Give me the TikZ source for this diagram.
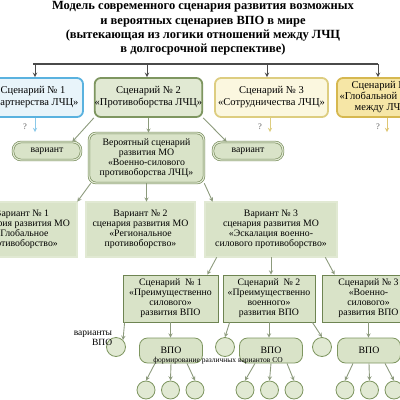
\documentclass[tikz,border=0pt]{standalone}
\usepackage{fontspec}
\setmainfont{Liberation Serif}
\usepackage{xcolor}
\usepackage{tikz}

\definecolor{blueln}{HTML}{5AB2DF}
\definecolor{bluefl}{HTML}{E8F4FA}
\definecolor{greenln}{HTML}{7E9660}
\definecolor{greenfl}{HTML}{E1E9D3}
\definecolor{yellln}{HTML}{DDCD80}
\definecolor{yellfl}{HTML}{FBF7DF}
\definecolor{goldln}{HTML}{D6B850}
\definecolor{goldfl}{HTML}{F6E6A6}
\definecolor{boxln}{HTML}{6E8452}
\definecolor{boxfl}{HTML}{D9E3C8}
\definecolor{arrln}{HTML}{8C9A7C}
\definecolor{barln}{HTML}{4A4A4A}

\tikzset{
  title/.style={align=center, font=\bfseries\fontsize{12.5}{14.3}\selectfont},
  topbox/.style={rounded corners=6pt, line width=1.8pt, align=center, inner sep=0pt,
    font=\fontsize{10.5}{12}\selectfont},
  dblbox/.style={draw=boxln, line width=0.6pt, double=greenfl, double distance=1.2pt,
    fill=boxfl, align=center, inner sep=0pt, font=\fontsize{9.8}{10}\selectfont},
  varpill/.style={dblbox, rounded corners=8pt, minimum height=18pt},
  scbox/.style={draw=boxln, line width=0.8pt, fill=boxfl, align=center, inner sep=0pt,
    minimum width=93pt, minimum height=47pt, font=\fontsize{9.8}{10}\selectfont},
  vpo/.style={draw=greenln, line width=0.8pt, fill=boxfl, rounded corners=8pt,
    minimum width=63pt, minimum height=25pt, font=\fontsize{9.8}{10}\selectfont},
  circ/.style={circle, draw=greenln, line width=0.8pt, fill=greenfl, minimum size=19pt, inner sep=0pt},
  smallcirc/.style={circ, minimum size=18pt},
  arr/.style={->, draw=arrln, line width=0.9pt},
  bararr/.style={->, draw=barln, line width=1pt},
  qmark/.style={text=black!65, font=\fontsize{8.5}{8}\selectfont}
}

\begin{document}
\begin{tikzpicture}[x=1pt,y=-1pt,>=stealth]
\useasboundingbox (0,0) rectangle (400,400);
\clip (0,0) rectangle (400,400);

% заголовок
\node[title] (head) at (203,28.5) {Модель современного сценария развития возможных\\
  и вероятных сценариев ВПО в мире\\
  (вытекающая из логики отношений между ЛЧЦ\\
  в долгосрочной перспективе)};

% сценарии отношений ЛЧЦ
\node[topbox, draw=blueln, fill=bluefl, minimum width=100pt, minimum height=39pt] (sc1) at (33,97.5)
  {Сценарий № 1\\ «Партнерства ЛЧЦ»};
\node[topbox, draw=greenln, fill=greenfl, minimum width=107pt, minimum height=39pt] (sc2) at (148.5,97.5)
  {Сценарий № 2\\ «Противоборства ЛЧЦ»};
\node[topbox, draw=yellln, fill=yellfl, minimum width=113pt, minimum height=39pt] (sc3) at (271.5,97.5)
  {Сценарий № 3\\ «Сотрудничества ЛЧЦ»};
\node[topbox, draw=goldln, fill=goldfl, minimum width=94pt, minimum height=39pt,
  font=\fontsize{10.5}{11}\selectfont] (sc4) at (384,97.5)
  {Сценарий № 4\\ «Глобальной войны\\ между ЛЧЦ»};

% общая шина
\coordinate (t1) at (35,64);
\coordinate (t2) at (147,64);
\coordinate (t3) at (267,64);
\coordinate (t4) at (378,64);
\draw[barln, line width=1.2pt] (33,64) -- (t4);
\draw[bararr] (t1) -- (t1 |- sc1.north);
\draw[bararr] (t2) -- (t2 |- sc2.north);
\draw[bararr] (t3) -- (t3 |- sc3.north);
\draw[bararr] (t4) -- (t4 |- sc4.north);

% неясные продолжения
\coordinate (e1) at (35,132);
\coordinate (e3) at (270,132);
\coordinate (e4) at (387,132);
\draw[->, draw=blueln!70, line width=0.9pt] (e1 |- sc1.south) -- (e1);
\draw[->, draw=yellln, line width=0.9pt] (e3 |- sc3.south) -- (e3);
\draw[->, draw=goldln!80, line width=0.9pt] (e4 |- sc4.south) -- (e4);
\node[qmark] (q1) at (25,127) {?};
\node[qmark] (q3) at (260,127) {?};
\node[qmark] (q4) at (378,127) {?};

% второй уровень
\node[varpill, minimum width=68pt] (var1) at (47,151) {вариант};
\node[dblbox, rounded corners=7pt, minimum width=115pt, minimum height=50pt] (prob) at (146.5,158)
  {Вероятный сценарий\\ развития МО\\ «Военно-силового\\ противоборства ЛЧЦ»};
\node[varpill, minimum width=70pt] (var2) at (248,151) {вариант};

\draw[arr] (sc2.south west) -- ([xshift=-9pt]var1.north east);
\draw[arr] (sc2.south) -- (sc2.south |- prob.north);
\draw[arr] (sc2.south east) -- ([xshift=14pt]var2.north west);

% варианты сценария МО
\node[dblbox, minimum width=110pt, minimum height=55pt] (v1) at (22,229.5)
  {Вариант № 1\\ сценария развития МО\\ «Глобальное\\ противоборство»};
\node[dblbox, minimum width=109pt, minimum height=55pt] (v2) at (140.5,229.5)
  {Вариант № 2\\ сценария развития МО\\ «Региональное\\ противоборство»};
\node[dblbox, minimum width=132pt, minimum height=55pt] (v3) at (271,229.5)
  {Вариант № 3\\ сценария развития МО\\ «Эскалация военно-\\ силового противоборство»};

\draw[arr] ([xshift=2pt]prob.south west) -- (v1.north east);
\draw[arr] (prob.south) -- (prob.south |- v2.north);
\draw[arr] (prob.south east) -- ([xshift=8pt]v3.north west);

% сценарии развития ВПО
\node[scbox, minimum width=95pt] (s1) at (170.5,298.5)
  {Сценарий~ № 1\\ «Преимущественно\\ силового»\\ развития ВПО};
\node[scbox, minimum width=92pt] (s2) at (269,298.5)
  {Сценарий~ № 2\\ «Преимущественно\\ военного»\\ развития ВПО};
\node[scbox] (s3) at (368.5,298.5)
  {Сценарий № 3\\ «Военно-\\ силового»\\ развития ВПО};

\draw[arr] ([xshift=12pt]v3.south west) -- ([xshift=-11pt]s1.north east);
\draw[arr] (v3.south) -- (v3.south |- s2.north);
\draw[arr] ([xshift=-12pt]v3.south east) -- ([xshift=13pt]s3.north west);

% ВПО и их варианты
\node[vpo] (p1) at (171,350.5) {ВПО};
\node[vpo] (p2) at (271,350.5) {ВПО};
\node[vpo] (p3) at (369,350.5) {ВПО};
\node[circ] (c0) at (116,347) {};
\node[circ] (c1) at (225,347) {};
\node[circ] (c2) at (322,347) {};

\draw[arr] ([xshift=2pt]s1.south west) -- (c0.north east);
\draw[arr] (s1.south) -- (s1.south |- p1.north);
\draw[arr] ([xshift=7pt]s2.south west) -- (c1.north);
\draw[arr] (s2.south) -- (s2.south |- p2.north);
\draw[arr] ([xshift=-3pt]s2.south east) -- (c2.north);
\draw[arr] (s3.south) -- (s3.south |- p3.north);

\node[align=right, font=\fontsize{9.5}{10}\selectfont] (vlab) at (93,338) {варианты\\ ВПО};

% формирование СО
\foreach \p/\x in {p1/146, p2/245, p3/345} {
  \node[smallcirc] (\p a) at (\x,390) {};
  \node[smallcirc] (\p b) at (\x+24.5,390) {};
  \node[smallcirc] (\p c) at (\x+49,390) {};
  \draw[arr] ([xshift=-16pt]\p.south) -- (\p a.north);
  \draw[arr] (\p.south) -- (\p b.north);
  \draw[arr] ([xshift=16pt]\p.south) -- (\p c.north);
}
\node[font=\fontsize{7.5}{8}\selectfont] (so) at (218,361) {формирование различных вариантов СО};
\end{tikzpicture}
\end{document}
